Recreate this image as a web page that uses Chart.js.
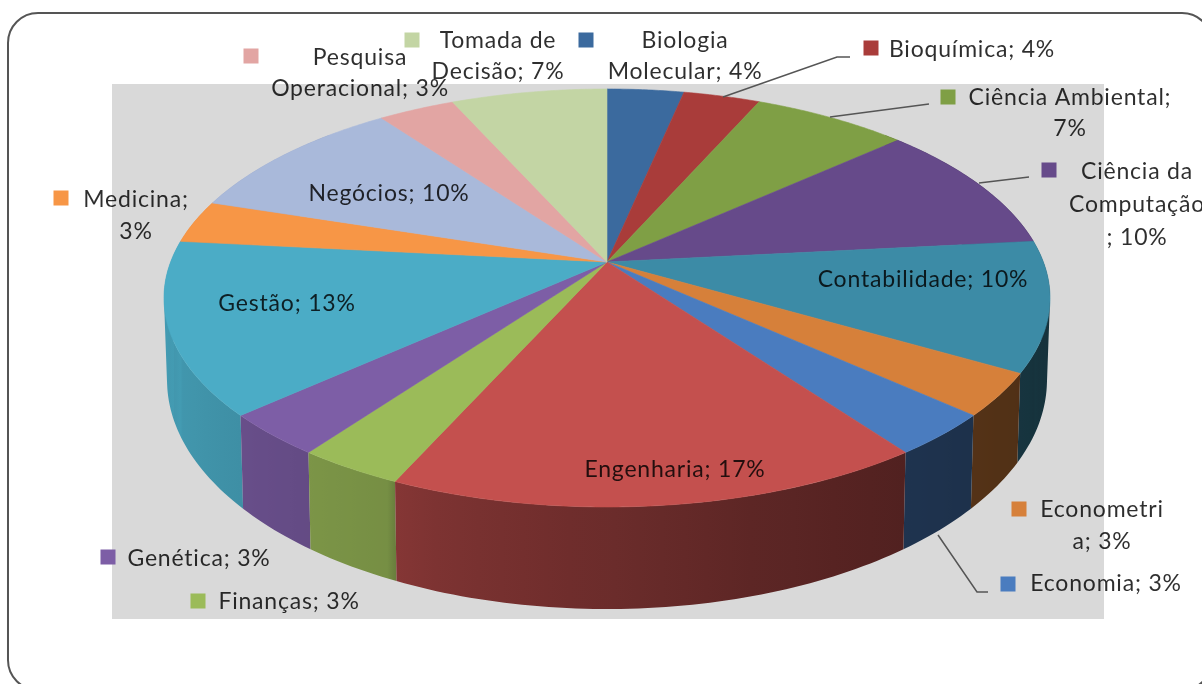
<!DOCTYPE html>
<html lang="pt">
<head>
<meta charset="utf-8">
<style>html,body{margin:0;padding:0;background:#fff;overflow:hidden}canvas{display:block;filter:blur(0.5px)}</style>
<script src="https://cdn.jsdelivr.net/npm/chart.js@4"></script>
</head>
<body>
<canvas id="c" width="1202" height="684"></canvas>
<script>
// ---- data ----
const categories = ["Biologia Molecular","Bioquímica","Ciência Ambiental","Ciência da Computação","Contabilidade","Econometria","Economia","Engenharia","Finanças","Genética","Gestão","Medicina","Negócios","Pesquisa Operacional","Tomada de Decisão"];
const sliceShares = [3.3,3.3,6.7,10,10,3.3,3.3,16.7,3.3,3.3,13.3,3.3,10,3.3,6.7];
const sliceColors = ["#3b6a9e","#a93c3a","#7f9f45","#664a8a","#3c8ba6","#d6803a","#4a7cbf","#c4504e","#9bbb59","#7d5ea6","#4bacc6","#f79646","#a9b9da","#e2a5a3","#c3d5a4"];
const labelLines = [["Biologia","Molecular; 4%"],["Bioquímica; 4%"],["Ciência Ambiental;","7%"],["Ciência da","Computação","; 10%"],["Contabilidade; 10%"],["Econometri","a; 3%"],["Economia; 3%"],["Engenharia; 17%"],["Finanças; 3%"],["Genética; 3%"],["Gestão; 13%"],["Medicina;","3%"],["Negócios; 10%"],["Pesquisa","Operacional; 3%"],["Tomada de","Decisão; 7%"]];

// ---- layout (styling only) ----
const labelCenterX = [685,972,1070,1137,923,1102,1106,675,289,199,287,136,389,360,498];
const labelFirstY = [41,50,98,172,280,510,584,470,602,559,304,200,194,58,41];
const labelLineGap = [31,0,31,33,0,32,0,0,0,0,0,32,0,31,31];
const keyCenterX = [586,871,948,1049,null,1019,1008,null,198,108,null,61,null,251,412];
const keyCenterY = [40,48,97,170,null,509,584,null,601,557,null,198,null,56,40];
const leaderLines = [
  [[723,97],[837,57],[850,57]],
  [[830,117],[929,104]],
  [[979,183],[1029,177]],
  [[938,535],[977,592],[988,592]]
];
const FONT = '23px Lato, "Open Sans", sans-serif';
const persp = -0.1722;
const topFace = {cx:607, a:436.4, y0:262, b:202.8};
const baseFace = {cx:607, a:433.4, y0:340.6, b:222.2};
const shadeU = [-1,-0.7,-0.411,-0.409,-0.2,0,0.3,0.6,1];
const shadeF = [0.9,0.82,0.76,0.66,0.6,0.55,0.47,0.41,0.36];

function project(theta, f){
  const u = Math.sin(theta), v = -Math.cos(theta), w = 1 + persp*v;
  return [f.cx + f.a*u/w, f.y0 + f.b*v/w];
}
function shadeAt(u){
  for(let i=1;i<shadeU.length;i++){
    if(u<=shadeU[i]){
      const t=(u-shadeU[i-1])/(shadeU[i]-shadeU[i-1]);
      return shadeF[i-1]+t*(shadeF[i]-shadeF[i-1]);
    }
  }
  return shadeF[shadeF.length-1];
}
function shaded(hex,k){
  const n=parseInt(hex.slice(1),16);
  return `rgb(${Math.round((n>>16&255)*k)},${Math.round((n>>8&255)*k)},${Math.round((n&255)*k)})`;
}
const LIM = Math.acos(0.7);          // the wall is hidden by the top face further back than this

const pie3d = {
  id:'pie3d',
  beforeDatasetsDraw(chart){
    const ctx=chart.ctx, arcs=chart.getDatasetMeta(0).data;
    ctx.save();
    // chart frame
    ctx.fillStyle='#fff'; ctx.fillRect(0,0,1202,684);
    ctx.beginPath(); ctx.roundRect(8,13,1204,677,30);
    ctx.strokeStyle='#555'; ctx.lineWidth=2; ctx.stroke();
    // plot area
    ctx.fillStyle='#d9d9d9'; ctx.fillRect(112,84,992,535);
    // side wall: per slice, a path of same-orientation quads under one gradient, back to front
    const walls=arcs.map(arc=>{
      const s=Math.max(arc.startAngle+Math.PI/2,LIM), e=Math.min(arc.endAngle+Math.PI/2,2*Math.PI-LIM);
      return {s,e,col:arc.options.backgroundColor};
    }).filter(w=>w.e>w.s).sort((a,b)=>Math.cos((b.s+b.e)/2)-Math.cos((a.s+a.e)/2));
    walls.forEach(w=>{
      const n=Math.max(6,Math.ceil((w.e-w.s)/(Math.PI/180)));
      const upper=[],lower=[];
      for(let i=0;i<=n;i++){const t=w.s+(w.e-w.s)*i/n;upper.push(project(t,topFace));lower.push(project(t,baseFace));}
      const xs=upper.concat(lower).map(p=>p[0]);
      const x0=Math.min(...xs),x1=Math.max(...xs);
      const g=ctx.createLinearGradient(x0,0,x1,0);
      const m=Math.min(n,12);
      const stops=[];
      for(let i=0;i<=m;i++){
        const t=w.s+(w.e-w.s)*i/m, px=project(t,topFace)[0];
        stops.push([Math.min(1,Math.max(0,(px-x0)/(x1-x0||1))),shaded(w.col,shadeAt(Math.sin(t)))]);
      }
      stops.sort((a,b)=>a[0]-b[0]).forEach(st=>g.addColorStop(st[0],st[1]));
      ctx.beginPath();
      for(let i=0;i<n;i++){
        let q=[upper[i],upper[i+1],lower[i+1],lower[i]];
        let area=0;
        q.forEach((p,k)=>{const r=q[(k+1)%4];area+=p[0]*r[1]-r[0]*p[1];});
        if(area<0) q=q.reverse();
        q.forEach((p,k)=>k?ctx.lineTo(p[0],p[1]):ctx.moveTo(p[0],p[1]));
        ctx.closePath();
      }
      ctx.fillStyle=g;ctx.fill('nonzero');
    });
    // top face
    arcs.forEach(arc=>{
      const s=arc.startAngle+Math.PI/2, e=arc.endAngle+Math.PI/2;
      const n=Math.max(4,Math.ceil((e-s)/(Math.PI/360)));
      ctx.beginPath();ctx.moveTo(topFace.cx,topFace.y0);
      for(let i=0;i<=n;i++){const p=project(s+(e-s)*i/n,topFace);ctx.lineTo(p[0],p[1]);}
      ctx.closePath();
      ctx.fillStyle=arc.options.backgroundColor;ctx.strokeStyle=arc.options.backgroundColor;ctx.lineWidth=0.6;ctx.fill();ctx.stroke();
    });
    ctx.restore();
  },
  beforeDatasetDraw(){ return false; },
  afterDatasetsDraw(chart){
    const ctx=chart.ctx, labels=chart.data.labels, colors=chart.data.datasets[0].backgroundColor;
    ctx.save();
    ctx.strokeStyle='#555';ctx.lineWidth=1.5;
    leaderLines.forEach(l=>{ctx.beginPath();l.forEach((p,i)=>i?ctx.lineTo(p[0],p[1]):ctx.moveTo(p[0],p[1]));ctx.stroke();});
    labels.forEach((name,i)=>{
      if(keyCenterX[i]!==null){
        ctx.fillStyle=colors[i];
        ctx.fillRect(keyCenterX[i]-7.5,keyCenterY[i]-7.5,15,15);
      }
    });
    ctx.font=FONT;ctx.letterSpacing='0.8px';ctx.textAlign='center';ctx.textBaseline='middle';ctx.fillStyle='rgba(0,0,0,0.82)';
    labelLines.forEach((lines,i)=>{
      lines.forEach((t,j)=>ctx.fillText(t,labelCenterX[i],labelFirstY[i]+j*labelLineGap[i]));
    });
    ctx.restore();
  }
};

new Chart(document.getElementById('c'),{
  type:'pie',
  data:{labels:categories,datasets:[{data:sliceShares,backgroundColor:sliceColors,borderWidth:0}]},
  options:{responsive:false,animation:false,plugins:{legend:{display:false},tooltip:{enabled:false},title:{display:false}}},
  plugins:[pie3d]
});
</script>
</body>
</html>
